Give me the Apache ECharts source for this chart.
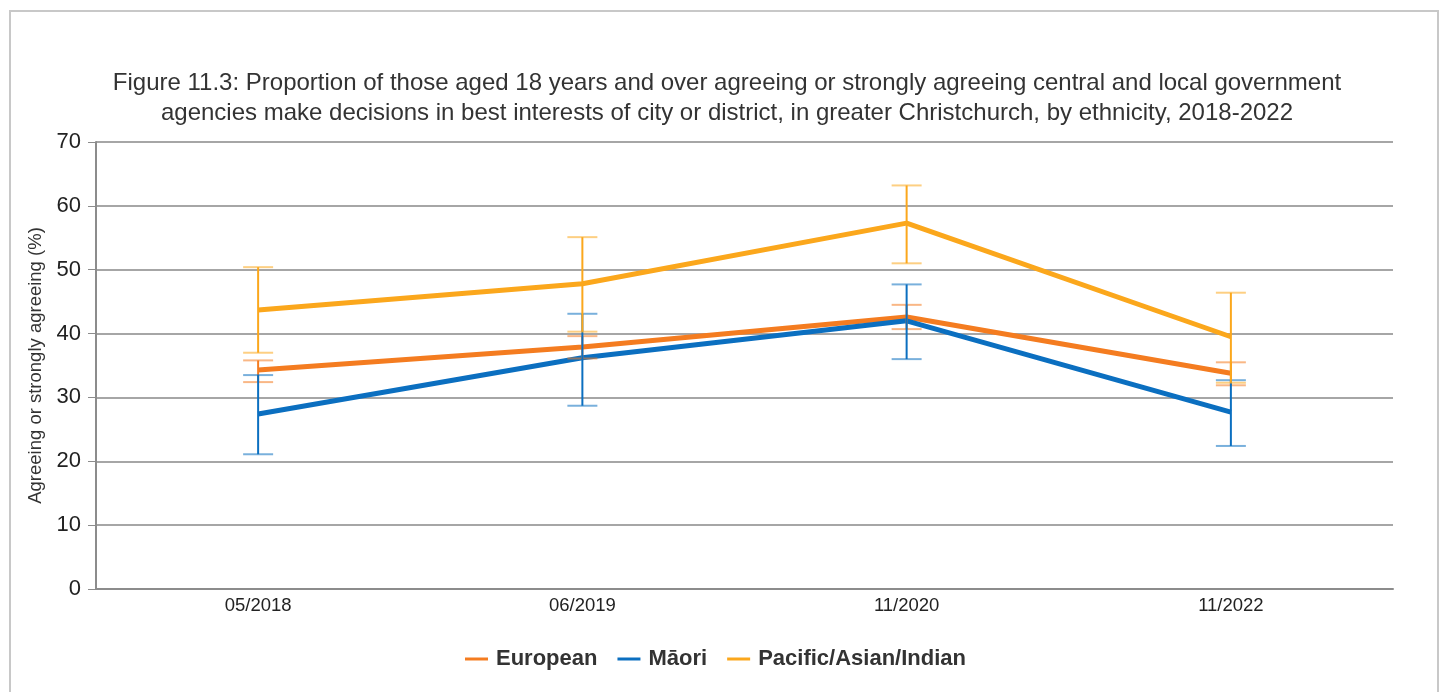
<!DOCTYPE html>
<html>
<head>
<meta charset="utf-8">
<script src="https://cdn.jsdelivr.net/npm/echarts@6/dist/echarts.min.js"></script>
<style>
  html, body { margin: 0; padding: 0; background: #fff; }
  #frame { position: absolute; left: 9px; top: 10px; width: 1430px; height: 700px; border: 2px solid #c8c8c8; border-bottom: none; box-sizing: border-box; }
  #chart { position: absolute; left: 0; top: 0; width: 1444px; height: 692px; }
</style>
</head>
<body>
<div id="frame"></div>
<div id="chart"></div>
<script>
const categories = ['05/2018', '06/2019', '11/2020', '11/2022'];
const seriesNames = ['European', 'Māori', 'Pacific/Asian/Indian'];
const european = [34.3, 37.9, 42.6, 33.8];
const europeanLow = [32.4, 36.1, 40.7, 31.9];
const europeanHigh = [35.8, 39.6, 44.5, 35.5];
const maori = [27.4, 36.2, 42.0, 27.7];
const maoriLow = [21.1, 28.7, 36.0, 22.4];
const maoriHigh = [33.5, 43.1, 47.7, 32.7];
const pacific = [43.7, 47.8, 57.3, 39.5];
const pacificLow = [37.0, 40.3, 51.0, 32.3];
const pacificHigh = [50.4, 55.1, 63.2, 46.4];
const yTicks = [0, 10, 20, 30, 40, 50, 60, 70];

const colors = ['#F47C20', '#0B6FC0', '#FBA71C'];
const FONT = 'Liberation Sans, Arial, sans-serif';

function errData(low, high) {
  return categories.map((c, i) => [i, low[i], high[i]]);
}
function errRender(color) {
  return function (params, api) {
    const x = api.value(0);
    const lo = api.coord([x, api.value(1)]);
    const hi = api.coord([x, api.value(2)]);
    const cap = 15;
    return {
      type: 'group',
      children: [
        { type: 'line', shape: { x1: lo[0], y1: lo[1], x2: hi[0], y2: hi[1] }, style: { stroke: color, lineWidth: 2 } },
        { type: 'line', shape: { x1: lo[0] - cap, y1: lo[1], x2: lo[0] + cap, y2: lo[1] }, style: { stroke: color, lineWidth: 2, opacity: 0.55 } },
        { type: 'line', shape: { x1: hi[0] - cap, y1: hi[1], x2: hi[0] + cap, y2: hi[1] }, style: { stroke: color, lineWidth: 2, opacity: 0.55 } }
      ]
    };
  };
}

const chart = echarts.init(document.getElementById('chart'), null, { renderer: 'canvas' });
const lines = [european, maori, pacific];
const lows = [europeanLow, maoriLow, pacificLow];
const highs = [europeanHigh, maoriHigh, pacificHigh];

const series = [];
lines.forEach((d, k) => {
  series.push({
    name: seriesNames[k], type: 'line', data: d, showSymbol: false, symbol: 'none',
    lineStyle: { color: colors[k], width: 5 }, itemStyle: { color: colors[k] }, z: 2 + k
  });
});
lines.forEach((d, k) => {
  series.push({
    name: seriesNames[k] + ' CI', type: 'custom', data: errData(lows[k], highs[k]),
    renderItem: errRender(colors[k]), encode: { x: 0, y: [1, 2] }, z: 10 + k, silent: true
  });
});

chart.setOption({
  animation: false,
  title: {
    text: 'Figure 11.3: Proportion of those aged 18 years and over agreeing or strongly agreeing central and local government\nagencies make decisions in best interests of city or district, in greater Christchurch, by ethnicity, 2018-2022',
    left: 722, top: 63,
    textAlign: 'center',
    textStyle: { fontFamily: FONT, fontSize: 24, fontWeight: 'normal', color: '#333', lineHeight: 30 }
  },
  legend: {
    data: seriesNames, top: 643, left: 460, icon: 'rect', itemWidth: 23, itemHeight: 3, itemGap: 20,
    textStyle: { fontFamily: FONT, fontSize: 22, fontWeight: 'bold', color: '#333', padding: [0, 0, 0, 3] }
  },
  grid: { left: 96, right: 51, top: 142, bottom: 103 },
  xAxis: {
    type: 'category', data: categories, boundaryGap: true,
    axisLine: { lineStyle: { color: '#8c8c8c', width: 2 } },
    axisTick: { alignWithLabel: true, length: 5, lineStyle: { color: '#8c8c8c' } },
    axisLabel: { fontFamily: FONT, fontSize: 18.5, color: '#222', margin: 7 }
  },
  yAxis: {
    type: 'value', min: yTicks[0], max: yTicks[yTicks.length - 1], interval: 10,
    name: 'Agreeing or strongly agreeing (%)', nameLocation: 'middle', nameRotate: 90, nameGap: 47,
    nameTextStyle: { fontFamily: FONT, fontSize: 18.5, color: '#333' },
    axisLine: { show: true, lineStyle: { color: '#8c8c8c', width: 2 } },
    axisTick: { show: true, length: 8, lineStyle: { color: '#8c8c8c' } },
    axisLabel: { fontFamily: FONT, fontSize: 22, color: '#222', margin: 15 },
    splitLine: { lineStyle: { color: '#888888', width: 1.5 } }
  },
  series: series
});
</script>
</body>
</html>
